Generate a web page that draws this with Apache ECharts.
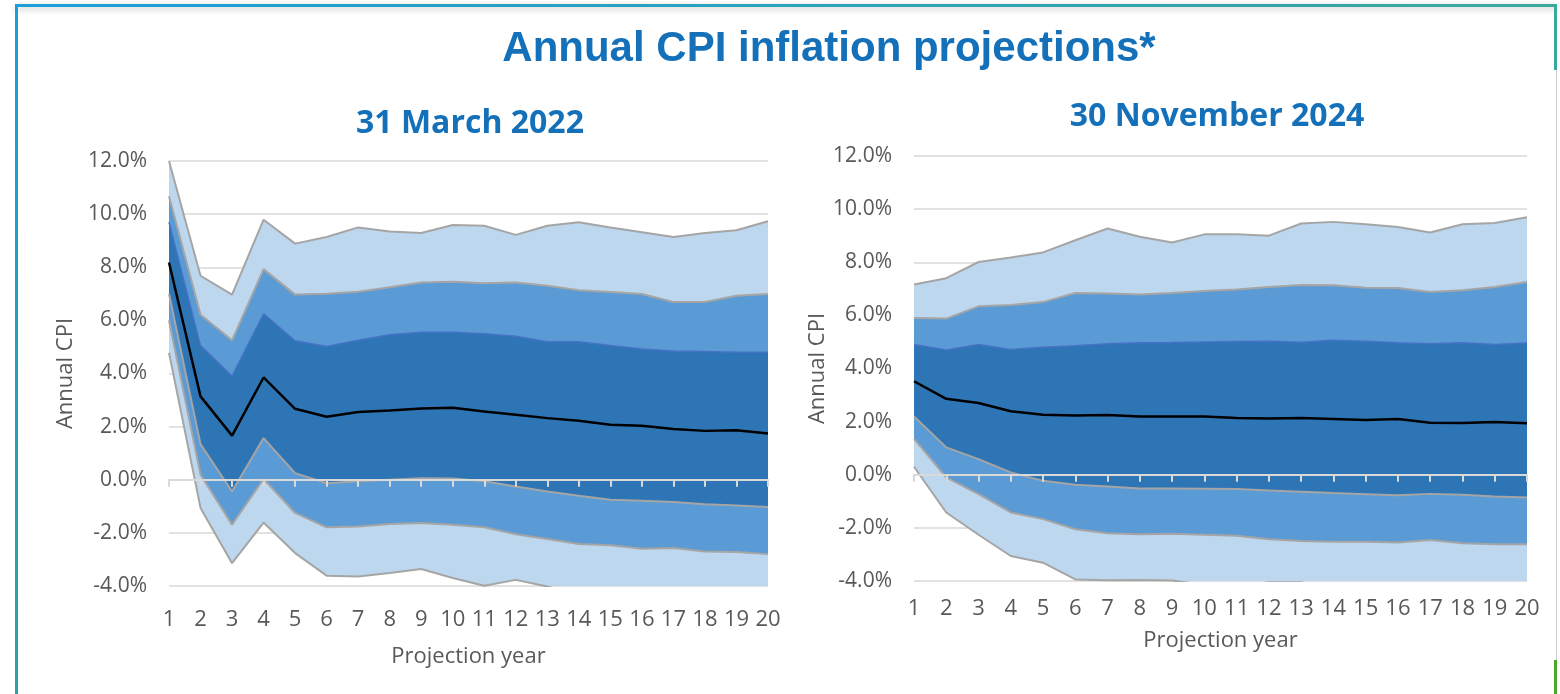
<!DOCTYPE html>
<html>
<head>
<meta charset="UTF-8">
<title>Annual CPI inflation projections</title>
<script src="https://cdn.jsdelivr.net/npm/echarts@6/dist/echarts.min.js"></script>
<style>
    html, body { margin: 0; padding: 0; background: #fff; }
    #main { width: 1560px; height: 694px; }
</style>
</head>
<body>
<div id="main"></div>
<script type="text/javascript">
// projection years (x axis)
var years = ['1','2','3','4','5','6','7','8','9','10','11','12','13','14','15','16','17','18','19','20'];

// 31 March 2022 fan (values in %)
var mar22OuterHigh = [12.0, 7.68, 6.97, 9.79, 8.89, 9.14, 9.50, 9.35, 9.29, 9.59, 9.56, 9.22, 9.56, 9.69, 9.50, 9.32, 9.14, 9.29, 9.39, 9.73];
var mar22MidHigh   = [10.67, 6.21, 5.25, 7.93, 6.97, 7.00, 7.08, 7.25, 7.43, 7.45, 7.40, 7.43, 7.30, 7.13, 7.07, 6.99, 6.69, 6.69, 6.93, 6.99];
var mar22InnerHigh = [9.70, 5.05, 3.90, 6.25, 5.23, 5.02, 5.25, 5.46, 5.55, 5.55, 5.50, 5.40, 5.20, 5.20, 5.05, 4.92, 4.85, 4.83, 4.80, 4.80];
var mar22Median    = [8.18, 3.14, 1.66, 3.85, 2.67, 2.37, 2.55, 2.61, 2.68, 2.71, 2.57, 2.45, 2.32, 2.22, 2.07, 2.03, 1.91, 1.84, 1.86, 1.74];
var mar22InnerLow  = [7.00, 1.34, -0.44, 1.57, 0.25, -0.13, -0.06, 0.00, 0.06, 0.05, -0.06, -0.25, -0.44, -0.60, -0.75, -0.79, -0.84, -0.92, -0.97, -1.03];
var mar22MidLow    = [6.00, 0.19, -1.69, 0.03, -1.25, -1.79, -1.76, -1.67, -1.63, -1.69, -1.79, -2.05, -2.23, -2.42, -2.47, -2.60, -2.57, -2.70, -2.72, -2.80];
var mar22OuterLow  = [4.78, -1.06, -3.14, -1.61, -2.76, -3.61, -3.64, -3.51, -3.36, -3.70, -3.99, -3.77, -4.02, -4.30, -4.30, -4.35, -4.35, -4.40, -4.40, -4.45];

// 30 November 2024 fan (values in %)
var nov24OuterHigh = [7.16, 7.40, 8.01, 8.18, 8.37, 8.83, 9.27, 8.96, 8.74, 9.05, 9.05, 9.00, 9.46, 9.52, 9.43, 9.33, 9.12, 9.43, 9.48, 9.69];
var nov24MidHigh   = [5.90, 5.88, 6.34, 6.39, 6.50, 6.84, 6.82, 6.79, 6.84, 6.92, 6.97, 7.07, 7.14, 7.13, 7.04, 7.03, 6.88, 6.95, 7.07, 7.26];
var nov24InnerHigh = [4.90, 4.70, 4.90, 4.72, 4.80, 4.86, 4.93, 4.97, 4.98, 5.00, 5.02, 5.03, 4.99, 5.06, 5.03, 4.97, 4.93, 4.97, 4.90, 4.96];
var nov24Median    = [3.52, 2.86, 2.70, 2.39, 2.26, 2.23, 2.25, 2.19, 2.19, 2.19, 2.14, 2.12, 2.14, 2.10, 2.06, 2.10, 1.96, 1.95, 1.99, 1.94];
var nov24InnerLow  = [2.19, 1.03, 0.59, 0.09, -0.23, -0.38, -0.44, -0.52, -0.52, -0.53, -0.54, -0.59, -0.64, -0.69, -0.73, -0.77, -0.72, -0.75, -0.82, -0.86];
var nov24MidLow    = [1.35, -0.10, -0.73, -1.42, -1.67, -2.05, -2.20, -2.24, -2.22, -2.26, -2.30, -2.43, -2.49, -2.52, -2.52, -2.55, -2.46, -2.58, -2.62, -2.62];
var nov24OuterLow  = [0.30, -1.42, -2.26, -3.06, -3.31, -3.94, -3.97, -3.96, -3.98, -4.15, -4.20, -4.05, -4.05, -4.30, -4.30, -4.30, -4.30, -4.30, -4.30, -4.30];

var LIGHT = '#bdd7ee', MID = '#5b9bd5', DARK = '#2e75b6';
var GREY = '#a5a5a5', EDGE = '#4472c4';
var TXT = '#595959', BLUE_TITLE = '#1470b8';
var FONT = 'Open Sans';

function diff(a, b) {
    return a.map(function (v, i) { return +(v - b[i]).toFixed(3); });
}

// stacked bands + boundary lines + median for one panel
function fanSeries(idx, oL, mL, iL, med, iH, mH, oH) {
    var out = [];
    var stack = 'fan' + idx;
    var bands = [
        { data: oL, color: null },
        { data: diff(mL, oL), color: LIGHT },
        { data: diff(iL, mL), color: MID },
        { data: diff(iH, iL), color: DARK },
        { data: diff(mH, iH), color: MID },
        { data: diff(oH, mH), color: LIGHT }
    ];
    bands.forEach(function (b) {
        out.push({
            type: 'line', xAxisIndex: idx * 2, yAxisIndex: idx,
            stack: stack, stackStrategy: 'all',
            data: b.data, showSymbol: false, silent: true,
            lineStyle: { width: 0, opacity: 0 },
            areaStyle: b.color ? { color: b.color, opacity: 1 } : { opacity: 0 },
            z: 2
        });
    });
    var edges = [[oL, GREY, 2], [mL, GREY, 2], [iL, GREY, 2], [iH, EDGE, 1.5], [mH, GREY, 2], [oH, GREY, 2]];
    edges.forEach(function (e) {
        out.push({
            type: 'line', xAxisIndex: idx * 2, yAxisIndex: idx,
            data: e[0], showSymbol: false, silent: true,
            lineStyle: { color: e[1], width: e[2] }, z: 3
        });
    });
    out.push({
        type: 'line', xAxisIndex: idx * 2, yAxisIndex: idx,
        data: med, showSymbol: false, silent: true,
        lineStyle: { color: '#000', width: 2.5 }, z: 4
    });
    return out;
}

function xAxes(gi, labelMargin, nameGap) {
    return [{
        type: 'category', gridIndex: gi, data: years, boundaryGap: false, position: 'bottom',
        axisLine: { show: false, onZero: false }, axisTick: { show: false },
        axisLabel: { color: TXT, fontSize: 22, fontFamily: FONT, margin: labelMargin, interval: 0 },
        name: 'Projection year', nameLocation: 'middle', nameGap: nameGap,
        nameTextStyle: { color: TXT, fontSize: 22, fontFamily: FONT }
    }, {
        type: 'category', gridIndex: gi, data: years, boundaryGap: false, position: 'bottom',
        axisLine: { show: true, onZero: true, lineStyle: { color: '#d9d9d9', width: 2 } },
        axisTick: { show: true, length: 7, lineStyle: { color: '#d9d9d9', width: 2 } },
        axisLabel: { show: false }, z: 10
    }];
}

function yAxis(gi, nameGap) {
    return {
        type: 'value', gridIndex: gi, min: -4, max: 12, interval: 2,
        axisLine: { show: false }, axisTick: { show: false },
        axisLabel: { color: TXT, fontSize: 21, fontFamily: FONT, margin: 22,
            formatter: function (v) { return v.toFixed(1) + '%'; } },
        splitLine: { lineStyle: { color: '#d9d9d9', width: 1.5 } },
        name: 'Annual CPI', nameLocation: 'middle', nameGap: nameGap,
        nameTextStyle: { color: TXT, fontSize: 22, fontFamily: FONT }
    };
}

var myChart = echarts.init(document.getElementById('main'));

var option = {
    animation: false,
    backgroundColor: '#fff',
    grid: [
        { left: 169, right: 792, top: 161, bottom: 108 },
        { left: 914, right: 33, top: 156, bottom: 113 }
    ],
    xAxis: xAxes(0, 23, 60).concat(xAxes(1, 17, 49)),
    yAxis: [yAxis(0, 92), yAxis(1, 77)],
    series: fanSeries(0, mar22OuterLow, mar22MidLow, mar22InnerLow, mar22Median, mar22InnerHigh, mar22MidHigh, mar22OuterHigh)
        .concat(fanSeries(1, nov24OuterLow, nov24MidLow, nov24InnerLow, nov24Median, nov24InnerHigh, nov24MidHigh, nov24OuterHigh)),
    graphic: [
        // frame
        { type: 'rect', shape: { x: 15, y: 4, width: 1542, height: 3 }, silent: true,
          style: { fill: new echarts.graphic.LinearGradient(0, 0, 1, 0, [
              { offset: 0, color: '#1a9fda' }, { offset: 1, color: '#3aa89c' }]),
              shadowBlur: 6, shadowColor: 'rgba(0,0,0,0.25)', shadowOffsetY: 2 } },
        { type: 'rect', shape: { x: 15, y: 4, width: 3, height: 690 }, silent: true,
          style: { fill: new echarts.graphic.LinearGradient(0, 0, 0, 1, [
              { offset: 0, color: '#1a9fda' }, { offset: 1, color: '#2aa3a8' }]) } },
        { type: 'rect', shape: { x: 1554, y: 4, width: 3, height: 66 }, silent: true,
          style: { fill: '#3aa89c' } },
        { type: 'rect', shape: { x: 1556, y: 70, width: 1, height: 590 }, silent: true,
          style: { fill: '#cfcfcf' } },
        { type: 'rect', shape: { x: 1554, y: 660, width: 3, height: 34 }, silent: true,
          style: { fill: '#4aa82a' } },
        // titles
        { type: 'text', x: 829, y: 49, silent: true,
          style: { text: 'Annual CPI inflation projections*', fill: BLUE_TITLE,
                   font: 'bold 42px "Liberation Sans", Arial, sans-serif',
                   textAlign: 'center', textVerticalAlign: 'middle' } },
        { type: 'text', x: 470, y: 124, silent: true,
          style: { text: '31 March 2022', fill: BLUE_TITLE,
                   font: 'bold 32px "Open Sans", sans-serif',
                   textAlign: 'center', textVerticalAlign: 'middle' } },
        { type: 'text', x: 1217, y: 117, silent: true,
          style: { text: '30 November 2024', fill: BLUE_TITLE,
                   font: 'bold 32px "Open Sans", sans-serif',
                   textAlign: 'center', textVerticalAlign: 'middle' } }
    ]
};

myChart.setOption(option);
</script>
</body>
</html>
